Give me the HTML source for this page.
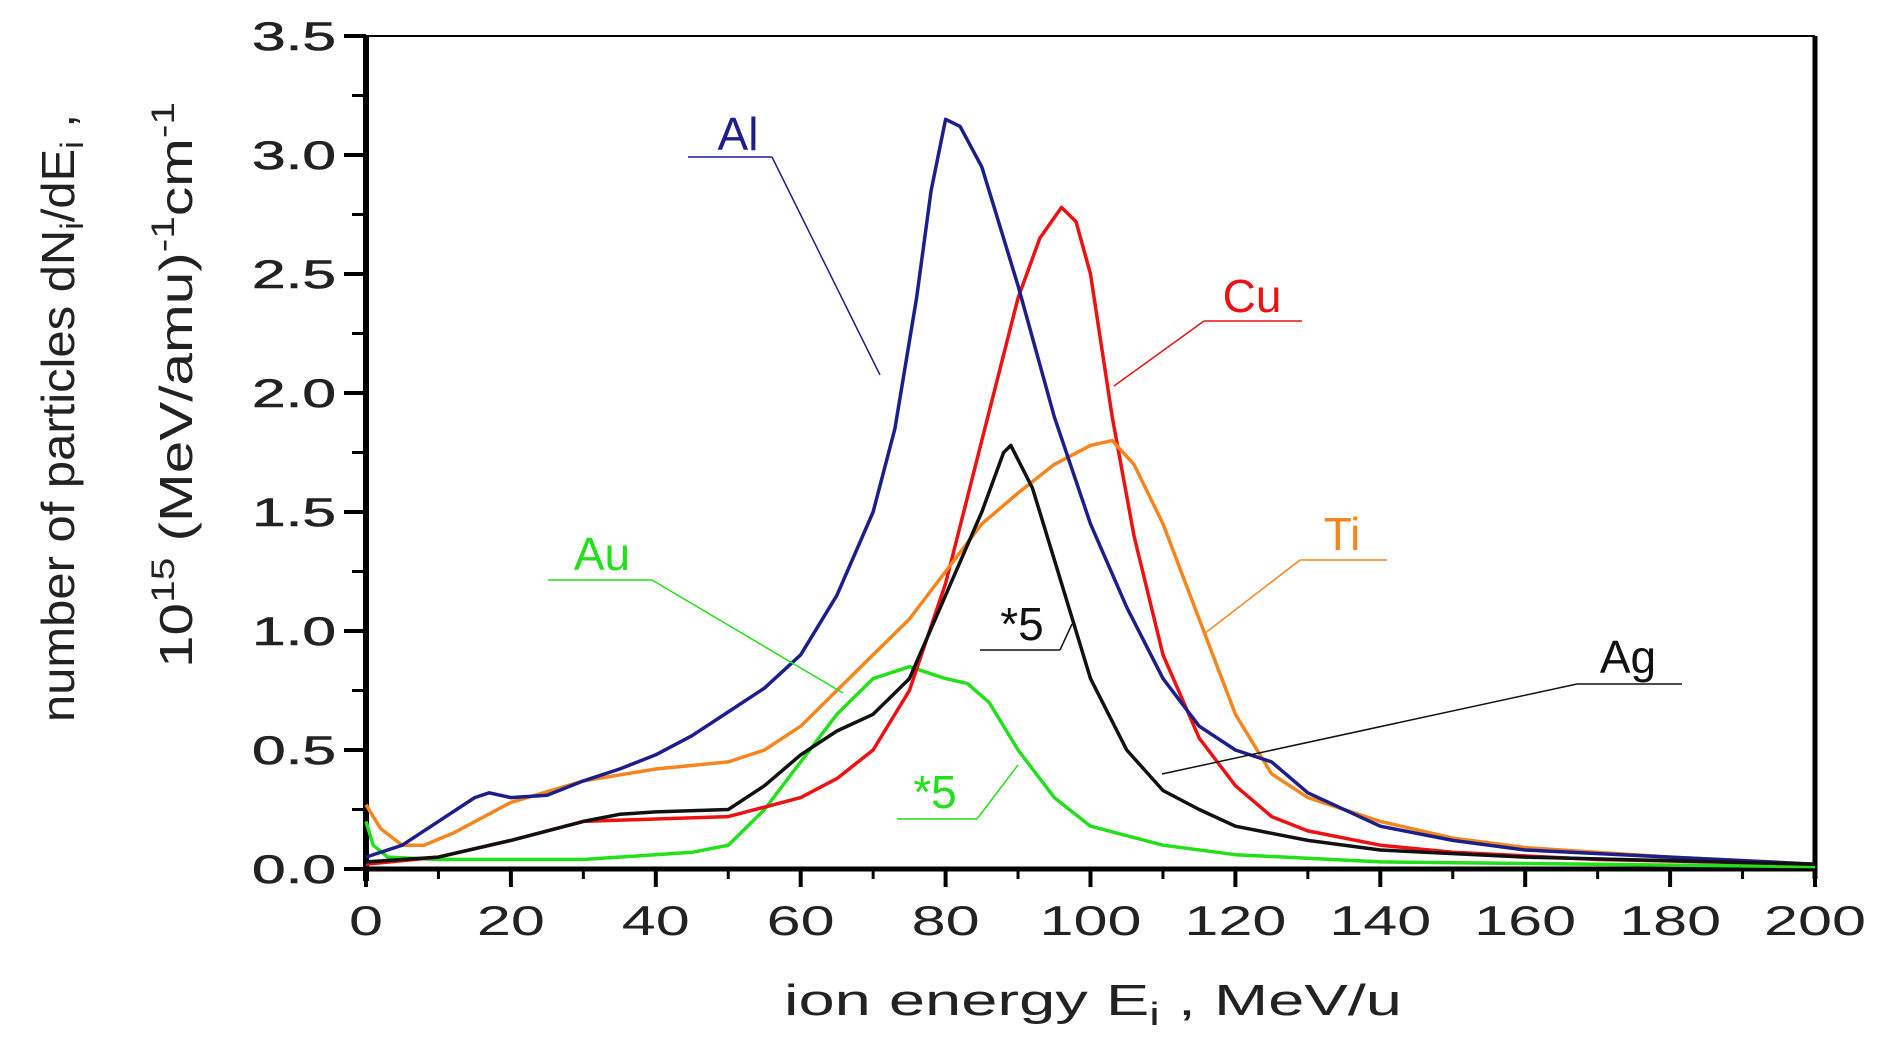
<!DOCTYPE html>
<html><head><meta charset="utf-8"><style>
html,body{margin:0;padding:0;background:#fff;}
svg{display:block;font-family:"Liberation Sans",sans-serif;}
</style></head><body>
<svg id="chart" width="1888" height="1050" viewBox="0 0 1888 1050" xmlns="http://www.w3.org/2000/svg">
<g id="axes"></g>
<g id="series"></g>
<g id="annot"></g>
<text x="784" y="1015" font-size="44" fill="#222" textLength="618" lengthAdjust="spacingAndGlyphs">ion energy E<tspan font-size="32" dy="10">i</tspan><tspan dy="-10"> , MeV/u</tspan></text>
<text transform="translate(74,418) rotate(-90)" font-size="46" text-anchor="middle" fill="#222" textLength="608" lengthAdjust="spacingAndGlyphs">number of particles dN<tspan font-size="32" dy="9">i</tspan><tspan dy="-9">/dE</tspan><tspan font-size="32" dy="9">i</tspan><tspan dy="-9"> ,</tspan></text>
<text transform="translate(192,385) rotate(-90)" font-size="46" text-anchor="middle" fill="#222" textLength="566" lengthAdjust="spacingAndGlyphs">10<tspan font-size="32" dy="-18">15</tspan><tspan dy="18"> (MeV/amu)</tspan><tspan font-size="32" dy="-18">-1</tspan><tspan dy="18">cm</tspan><tspan font-size="32" dy="-18">-1</tspan></text>
</svg>
<script>
const xTicks = [0,20,40,60,80,100,120,140,160,180,200];
const yTicks = [0.0,0.5,1.0,1.5,2.0,2.5,3.0,3.5];
const alX = [0,5,10,15,17,20,25,30,35,40,45,50,55,60,65,70,73,76,78,80,82,85,88,90,95,100,105,110,115,120,125,130,140,150,160,180,200];
const alY = [0.05,0.1,0.2,0.3,0.32,0.3,0.31,0.37,0.42,0.48,0.56,0.66,0.76,0.9,1.15,1.5,1.85,2.4,2.85,3.15,3.12,2.95,2.65,2.45,1.9,1.45,1.1,0.8,0.6,0.5,0.45,0.32,0.18,0.12,0.08,0.05,0.02];
const cuX = [0,10,20,30,40,50,60,65,70,75,80,85,90,93,96,98,100,103,106,110,115,120,125,130,140,150,170,200];
const cuY = [0.02,0.05,0.12,0.2,0.21,0.22,0.3,0.38,0.5,0.75,1.2,1.8,2.4,2.65,2.78,2.72,2.5,1.9,1.4,0.9,0.55,0.35,0.22,0.16,0.1,0.07,0.04,0.02];
const tiX = [0,2,5,8,12,20,30,40,50,55,60,65,70,75,80,85,90,95,100,103,106,110,115,120,125,130,140,150,160,180,200];
const tiY = [0.27,0.17,0.1,0.1,0.15,0.28,0.37,0.42,0.45,0.5,0.6,0.75,0.9,1.05,1.25,1.45,1.58,1.7,1.78,1.8,1.7,1.45,1.05,0.65,0.4,0.3,0.2,0.13,0.09,0.05,0.02];
const agX = [0,10,20,30,35,40,50,55,60,65,70,75,80,85,88,89,92,95,100,105,110,115,120,130,140,160,200];
const agY = [0.03,0.05,0.12,0.2,0.23,0.24,0.25,0.35,0.48,0.58,0.65,0.8,1.15,1.5,1.75,1.78,1.6,1.3,0.8,0.5,0.33,0.25,0.18,0.12,0.08,0.05,0.02];
const auX = [0,1,3,10,30,45,50,55,60,65,70,75,78,80,83,86,90,95,100,110,120,140,200];
const auY = [0.2,0.1,0.05,0.04,0.04,0.07,0.1,0.25,0.45,0.65,0.8,0.85,0.82,0.8,0.78,0.7,0.5,0.3,0.18,0.1,0.06,0.03,0.01];

const NS='http://www.w3.org/2000/svg';
const X0=366,X1=1815,Y0=869,Y1=36;
function sx(v){return X0+(v/200)*(X1-X0);}
function sy(v){return Y0-(v/3.5)*(Y0-Y1);}
function mk(tag,attrs,parent){const e=document.createElementNS(NS,tag);for(const k in attrs)e.setAttribute(k,attrs[k]);parent.appendChild(e);return e;}
const axes=document.getElementById('axes');
let fr=mk('line',{x1:X0,y1:Y1,x2:X1,y2:Y1,stroke:'#000','stroke-width':2},axes);


let fr2=mk('line',{x1:X1,y1:Y1,x2:X1,y2:Y0+10,stroke:'#000','stroke-width':5},axes);


let ya=mk('line',{x1:X0,y1:Y1,x2:X0,y2:Y0+12,stroke:'#000','stroke-width':6},axes);


let xa=mk('line',{x1:X0,y1:Y0,x2:X1,y2:Y0,stroke:'#000','stroke-width':5},axes);


yTicks.forEach((v,i)=>{
  const t=mk('line',{x1:X0-22,y1:sy(v),x2:X0,y2:sy(v),stroke:'#000','stroke-width':4},axes);
  
  
  if(i<yTicks.length-1){const m=mk('line',{x1:X0-14,y1:sy(v+0.25),x2:X0,y2:sy(v+0.25),stroke:'#000','stroke-width':3},axes);
  
  }
  const l=mk('text',{x:X0-30,y:sy(v)+14,'font-size':40,'text-anchor':'end',fill:'#222',textLength:84,lengthAdjust:'spacingAndGlyphs','stroke':'#222','stroke-width':0.6},axes);
  l.textContent=v.toFixed(1);
  
  
});
xTicks.forEach((v,i)=>{
  const t=mk('line',{x1:sx(v),y1:Y0,x2:sx(v),y2:Y0+18,stroke:'#000','stroke-width':4},axes);
  
  
  if(i<xTicks.length-1){const m=mk('line',{x1:sx(v+10),y1:Y0,x2:sx(v+10),y2:Y0+10,stroke:'#000','stroke-width':3},axes);
  
  }
  const s=String(v);
  const l=mk('text',{x:sx(v),y:Y0+66,'font-size':42,'text-anchor':'middle',fill:'#222',textLength:s.length*34,lengthAdjust:'spacingAndGlyphs'},axes);
  l.textContent=s;
  
  
});
const ser=document.getElementById('series');
function drawLine(xs,ys,color,name){
  const d=xs.map((x,i)=>(i?'L':'M')+sx(x).toFixed(1)+','+sy(ys[i]).toFixed(1)).join('');
  const p=mk('path',{d:d,fill:'none',stroke:color,'stroke-width':3.5,'stroke-linejoin':'round'},ser);
  
  
}
drawLine(auX,auY,'#22e01a','line-au');
drawLine(cuX,cuY,'#ee1111','line-cu');
drawLine(tiX,tiY,'#f5861f','line-ti');
drawLine(alX,alY,'#1c1f8a','line-al');
drawLine(agX,agY,'#111111','line-ag');
const an=document.getElementById('annot');
function label(txt,x,y,color,ux1,ux2,uy,lx,ly,name){
  const t=mk('text',{x:x,y:y,'font-size':46,'text-anchor':'middle',fill:color},an);
  t.textContent=txt;
  
  
  const u=mk('polyline',{points:ux1+','+uy+' '+ux2+','+uy,fill:'none',stroke:color,'stroke-width':1.5},an);
  
  
  const ax=(lx<ux1+(ux2-ux1)/2)?ux1:ux2;
  const l=mk('line',{x1:ax,y1:uy,x2:lx,y2:ly,stroke:color,'stroke-width':1.5},an);
  
  
}
label('Al',738,150,'#1c1f8a',688,772,157,880,375,'al');
label('Cu',1252,312,'#ee1111',1204,1302,321,1114,386,'cu');
label('Ti',1342,550,'#f5861f',1300,1387,560,1204,634,'ti');
label('*5',1022,640,'#111111',980,1060,650,1072,624,'ag-scale');
label('Ag',1628,673,'#111111',1577,1682,684,1162,774,'ag');
label('Au',602,570,'#22e01a',548,652,580,843,693,'au');
label('*5',935,808,'#22e01a',897,977,819,1018,765,'au-scale');
</script>
</body></html>
